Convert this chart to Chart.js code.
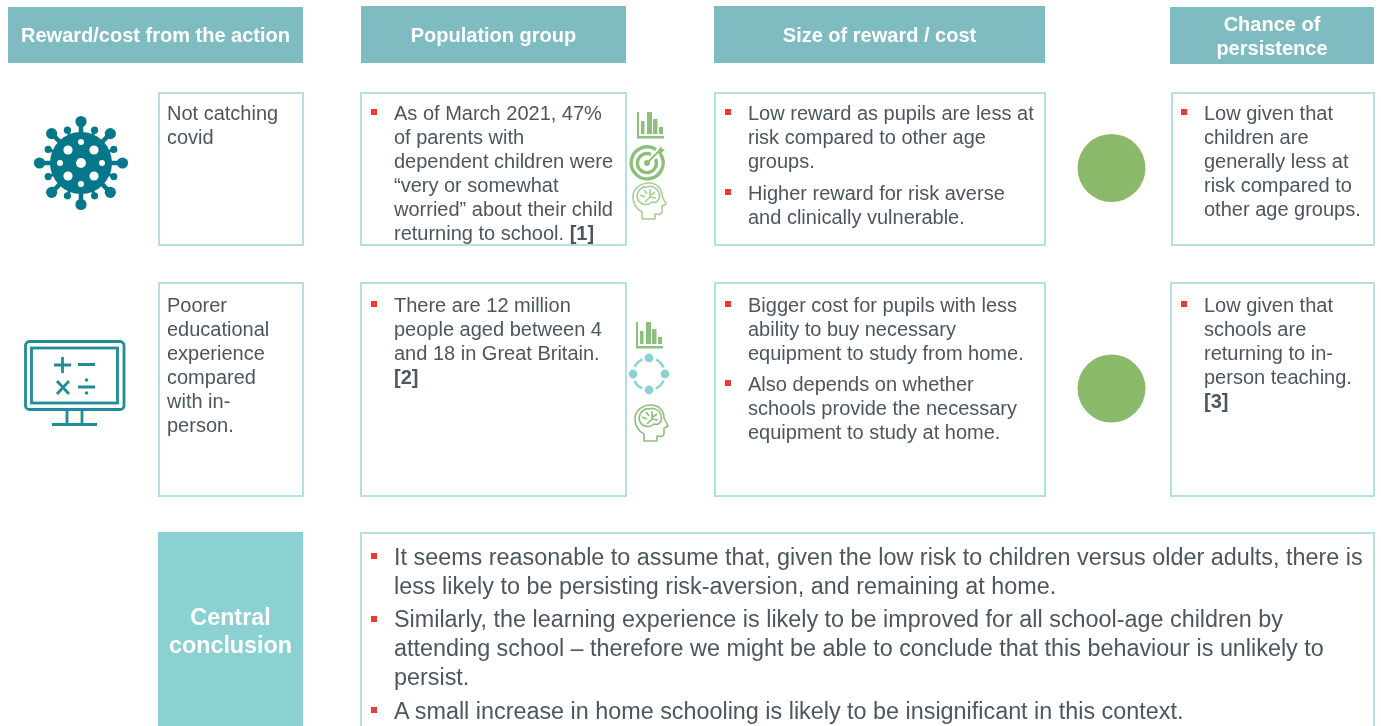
<!DOCTYPE html>
<html>
<head>
<meta charset="utf-8">
<title>Reward and cost of the action</title>
<script src="https://cdn.jsdelivr.net/npm/chart.js@4"></script>
<style>
  html, body { margin: 0; padding: 0; background: #fff; overflow: hidden; }
  body { width: 1381px; height: 726px; position: relative; font-family: "Liberation Sans", Arial, sans-serif; color: #4b5661; }
  .rect { position: absolute; box-sizing: border-box; }
  .box { border: 2px solid #b4e0e2; background: #fff; }
  .line { position: absolute; white-space: nowrap; }
  .bullet { position: absolute; width: 6px; height: 6px; background: #ee3a34; }
  svg { position: absolute; left: 0; top: 0; }
  #myChart { position: absolute; left: 0; top: 0; pointer-events: none; }
</style>
</head>
<body>
<svg id="icons" width="1381" height="726"></svg>
<canvas id="myChart" width="1381" height="726"></canvas>
<script>
// the two rows of the slide and their "chance of persistence" marker
let rows = ['Not catching covid', 'Poorer educational experience compared with in-person.'];
let rowIndex = [0, 1];
let persistenceLevel = [1, 1]; // both rated the same, "low"

let headers = [
  ['Reward/cost from the action'],
  ['Population group'],
  ['Size of reward / cost'],
  ['Chance of', 'persistence']
];
let actionRow1 = ['Not catching', 'covid'];
let actionRow2 = ['Poorer', 'educational', 'experience', 'compared', 'with in-', 'person.'];
let populationRow1 = [['As of March 2021, 47%', 'of parents with', 'dependent children were', '“very or somewhat', 'worried” about their child', 'returning to school. [1]']];
let populationRow2 = [['There are 12 million', 'people aged between 4', 'and 18 in Great Britain.', '[2]']];
let sizeRow1 = [
  ['Low reward as pupils are less at', 'risk compared to other age', 'groups.'],
  ['Higher reward for risk averse', 'and clinically vulnerable.']
];
let sizeRow2 = [
  ['Bigger cost for pupils with less', 'ability to buy necessary', 'equipment to study from home.'],
  ['Also depends on whether', 'schools provide the necessary', 'equipment to study at home.']
];
let chanceRow1 = [['Low given that', 'children are', 'generally less at', 'risk compared to', 'other age groups.']];
let chanceRow2 = [['Low given that', 'schools are', 'returning to in-', 'person teaching.', '[3]']];
let conclusionTitle = ['Central', 'conclusion'];
let conclusion = [
  ['It seems reasonable to assume that, given the low risk to children versus older adults, there is', 'less likely to be persisting risk-aversion, and remaining at home.'],
  ['Similarly, the learning experience is likely to be improved for all school-age children by', 'attending school – therefore we might be able to conclude that this behaviour is unlikely to', 'persist.'],
  ['A small increase in home schooling is likely to be insignificant in this context.']
];

function rect(x0, y0, x1, y1, cls, color) {
  let d = document.createElement('div');
  d.className = 'rect ' + (cls || '');
  d.style.cssText = `left:${x0}px;top:${y0}px;width:${x1 - x0}px;height:${y1 - y0}px;` + (color ? `background:${color};` : '');
  document.body.insertBefore(d, document.getElementById('icons'));
}

function addLine(txt, x, cy, size, lh, extra) {
  let d = document.createElement('div');
  d.className = 'line';
  d.style.cssText = `left:${x}px;top:${cy - lh / 2}px;font-size:${size}px;line-height:${lh}px;` + (extra || '');
  d.innerHTML = txt.replace(/\[\d\]/, '<b>$&</b>');
  document.body.appendChild(d);
}

function plainLines(lines, x, cy, size, lh) {
  lines.forEach((l, i) => addLine(l, x, cy + i * lh, size, lh));
}

// paragraphs with red square bullets, tops = centre of each paragraph's first line
function bullets(paras, x, tops, size, lh) {
  paras.forEach((p, i) => {
    let b = document.createElement('div');
    b.className = 'bullet';
    b.style.left = (x - 23) + 'px';
    b.style.top = (tops[i] - 4) + 'px';
    document.body.appendChild(b);
    plainLines(p, x, tops[i], size, lh);
  });
}

function header(lines, x0, y0, x1, y1, cys) {
  rect(x0, y0, x1, y1, '', '#7fbcc2');
  lines.forEach((l, i) => {
    addLine(l, x0, cys[i], 20, 24, `width:${x1 - x0}px;font-weight:bold;color:#fff;text-align:center;`);
  });
}

header(headers[0], 8, 7, 303, 63, [35]);
header(headers[1], 361, 6, 626, 63, [35]);
header(headers[2], 714, 6, 1045, 63, [35]);
header(headers[3], 1170, 7, 1374, 64, [24, 48]);

rect(158, 92, 304, 246, 'box');
rect(360, 92, 627, 246, 'box');
rect(714, 92, 1046, 246, 'box');
rect(1171, 92, 1375, 246, 'box');
rect(158, 282, 304, 497, 'box');
rect(360, 282, 627, 497, 'box');
rect(714, 282, 1046, 497, 'box');
rect(1170, 282, 1375, 497, 'box');
rect(360, 532, 1375, 740, 'box');
rect(158, 532, 303, 726, '', '#8bd0d2');

plainLines(actionRow1, 167, 113, 20, 24);
plainLines(actionRow2, 167, 305, 20, 24);
bullets(populationRow1, 394, [113], 20, 24);
bullets(populationRow2, 394, [305], 20, 24);
bullets(sizeRow1, 748, [113, 193], 20, 24.3);
bullets(sizeRow2, 748, [305, 384], 20, 24);
bullets(chanceRow1, 1204, [113], 20, 24);
bullets(chanceRow2, 1204, [305], 20, 24);
bullets(conclusion, 394, [557, 619.5, 711], 23.37, 29);
conclusionTitle.forEach((l, i) => {
  addLine(l, 158, 617 + i * 28, 23.3, 28, 'width:145px;font-weight:bold;color:#fff;text-align:center;');
});

// icons
const TEAL = '#04788a', MON = '#1f8c98', GR = '#8cc07a', GR2 = '#a6d098', CY = '#8ad2d6';
let svg = '';
function virus(cx, cy) {
  let s = `<circle cx="${cx}" cy="${cy}" r="31" fill="${TEAL}"/>`;
  for (let i = 0; i < 16; i++) {
    let long = i % 2 === 0;
    let a = i * Math.PI / 8;
    let d = long ? 41.5 : 35.5;
    let x = cx + Math.cos(a) * d, y = cy + Math.sin(a) * d;
    s += `<line x1="${cx}" y1="${cy}" x2="${x}" y2="${y}" stroke="${TEAL}" stroke-width="${long ? 4.5 : 3}"/>`;
    s += `<circle cx="${x}" cy="${y}" r="${long ? 5.6 : 3.6}" fill="${TEAL}"/>`;
  }
  [[0, 0, 5], [-13, -13, 4.6], [13, -13, 4.6], [-13, 13, 4.6], [13, 13, 4.6], [0, -21, 3], [-21, 0, 3], [21, 0, 3], [0, 21, 3]].forEach(h => {
    s += `<circle cx="${cx + h[0]}" cy="${cy + h[1]}" r="${h[2]}" fill="#fff"/>`;
  });
  return s;
}
function monitor() {
  return `<g fill="none" stroke="${MON}" stroke-width="2.8">
    <rect x="25.5" y="341.5" width="98.5" height="68" rx="4"/>
    <rect x="31.5" y="348" width="86" height="55"/>
    <path d="M67 410V424M82 410V424M52 424.5H97"/>
    <path d="M54 365H71M62.5 357V373M78 364.5H95M57 381L69 394M69 381L57 394M78 387H95"/>
  </g>
  <circle cx="86.5" cy="380" r="1.8" fill="${MON}"/><circle cx="86.5" cy="393" r="1.8" fill="${MON}"/>`;
}
function barsIcon(x, y) {
  return `<g fill="${GR}">
    <rect x="${x}" y="${y}" width="2" height="26"/><rect x="${x}" y="${y + 24}" width="27" height="2.5"/>
    <rect x="${x + 4}" y="${y + 9}" width="3.5" height="13"/><rect x="${x + 10}" y="${y}" width="5" height="22"/>
    <rect x="${x + 16}" y="${y + 7}" width="4.5" height="15"/><rect x="${x + 22}" y="${y + 15}" width="4" height="7"/>
  </g>`;
}
function target(cx, cy) {
  return `<g fill="none" stroke="${GR}">
    <path d="M${cx + 9} ${cy - 13.5}A16 16 0 1 0 ${cx + 13.5} ${cy - 9}" stroke-width="3.4"/>
    <path d="M${cx + 4} ${cy - 8.5}A9.5 9.5 0 1 0 ${cx + 8.5} ${cy - 4}" stroke-width="3.4"/>
    <circle cx="${cx}" cy="${cy}" r="3" fill="${GR}" stroke="none"/>
    <path d="M${cx} ${cy}L${cx + 11} ${cy - 11}" stroke-width="2"/>
    <path d="M${cx + 10} ${cy - 11}L${cx + 14} ${cy - 17}L${cx + 15} ${cy - 14}L${cx + 18} ${cy - 14}L${cx + 13} ${cy - 8}Z" fill="${GR}" stroke="none"/>
  </g>`;
}
function brain(x, y, c) {
  return `<g fill="none" stroke="${c}" stroke-width="1.6" stroke-linejoin="round">
    <path d="M${x + 9} ${y + 36}V${y + 29}C${x + 2} ${y + 25} ${x} ${y + 19} ${x} ${y + 14}C${x} ${y + 5} ${x + 8} ${y} ${x + 16} ${y}C${x + 24} ${y} ${x + 29} ${y + 6} ${x + 29} ${y + 13}L${x + 33} ${y + 21}L${x + 29} ${y + 23}V${y + 29}C${x + 29} ${y + 31} ${x + 26} ${y + 32} ${x + 22} ${y + 31}V${y + 36}Z"/>
    <path d="M${x + 5} ${y + 17}C${x + 2} ${y + 10} ${x + 8} ${y + 3} ${x + 14} ${y + 4}C${x + 19} ${y + 2} ${x + 26} ${y + 6} ${x + 26} ${y + 11}C${x + 28} ${y + 16} ${x + 23} ${y + 21} ${x + 19} ${y + 19}C${x + 15} ${y + 23} ${x + 8} ${y + 22} ${x + 5} ${y + 17}Z"/>
    <path d="M${x + 7} ${y + 12}L${x + 12} ${y + 14}M${x + 11} ${y + 7}L${x + 14} ${y + 11}M${x + 17} ${y + 6}V${y + 14}L${x + 12} ${y + 19}M${x + 22} ${y + 9}L${x + 18} ${y + 12}M${x + 23} ${y + 15}L${x + 17} ${y + 14}"/>
  </g>`;
}
function ringIcon(cx, cy) {
  let s = `<circle cx="${cx}" cy="${cy}" r="16" fill="none" stroke="${CY}" stroke-width="2.4" stroke-dasharray="11 14.1" stroke-dashoffset="-7"/>`;
  [[0, -16], [16, 0], [0, 16], [-16, 0]].forEach(p => {
    s += `<circle cx="${cx + p[0]}" cy="${cy + p[1]}" r="4.4" fill="${CY}"/>`;
  });
  return s;
}
svg += virus(81, 163) + monitor();
svg += barsIcon(637, 112) + target(647, 163) + brain(633, 183, GR2);
svg += barsIcon(636, 322) + ringIcon(649, 374) + brain(635, 405, GR);
document.getElementById('icons').innerHTML = svg;

// persistence markers go through the chart scales; the axes are hidden and
// stretched over the page so they land in the gap between the last two columns
let ctx = document.getElementById('myChart').getContext('2d');
let myChart = new Chart(ctx, {
  type: 'bubble',
  data: {
    labels: rows,
    datasets: [{
      data: rowIndex.map((r, i) => ({ x: persistenceLevel[i], y: r })),
      backgroundColor: '#8aba69',
      borderWidth: 0,
      radius: 34
    }]
  },
  options: {
    responsive: false,
    animation: false,
    layout: { padding: 0, autoPadding: false },
    plugins: { legend: { display: false }, tooltip: { enabled: false } },
    scales: {
      x: { display: false, min: 0, max: 1381 / 1111.5 },
      y: { display: false, reverse: true, min: -168 / 220.5, max: (726 - 168) / 220.5 }
    }
  }
});
</script>
</body>
</html>
